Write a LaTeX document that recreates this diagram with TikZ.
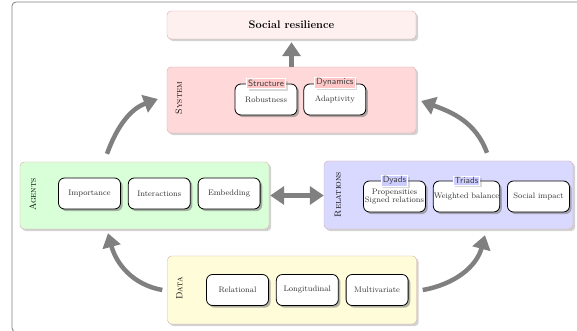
\documentclass[tikz,border=0pt]{standalone}
\usepackage{amsmath, amssymb}
\usepackage{tikz}
\usetikzlibrary{positioning, shadows, arrows.meta}

\definecolor{edgepink}{RGB}{214,172,172}
\definecolor{flowgray}{RGB}{128,128,128}

\begin{document}
\begin{tikzpicture}[x=1pt, y=1pt,
        tier/.style={draw=edgepink, fill=#1, rounded corners=4pt, drop shadow={opacity=0.35}, minimum width=249pt, minimum height=67pt},
        item/.style={draw, line width=0.8pt, fill=white, rounded corners=6pt, drop shadow={opacity=0.6}, minimum width=62pt, minimum height=31pt, inner sep=0.5pt, align=center, font=\footnotesize, text=black!80},
        tag/.style={draw=white, line width=0.8pt, fill=#1, inner sep=1.5pt, font=\small\sffamily, text=black!75, drop shadow={opacity=0.3}},
        lbl/.style={rotate=90, font=\small},
        flow/.style={draw=flowgray, line width=4.5pt, -{Triangle[length=14pt, width=18pt]}}
    ]
    \useasboundingbox (0,0) rectangle (577,331);
    \draw[gray, line width=0.8pt, rounded corners=4pt] (12,-1) rectangle (640,329);

    \node[tier=red!6, minimum height=28pt, font=\fontsize{11}{13}\selectfont\bfseries] (resil) at (291.5,306) {Social resilience};

    \node[tier=red!15, minimum height=66pt] (system) at (291.5,231) {};
    \node[lbl] (systemlbl) at ([xshift=12pt, yshift=2pt]system.west) {\textsc{System}};
    \node[item] (robust) at (266,231.5) {Robustness};
    \node[item, right=6pt of robust] (adapt) {Adaptivity};
    \node[tag=red!22] (structure) at (robust.north) {Structure};
    \node[tag=red!22] (dynamics) at ([yshift=1pt]adapt.north) {Dynamics};

    \node[tier=green!15] (agents) at (144.5,135.5) {};
    \node[lbl] (agentslbl) at ([xshift=13pt, yshift=1pt]agents.west) {\textsc{Agents}};
    \node[item] (import) at (89.5,137.5) {Importance};
    \node[item, right=7pt of import] (interact) {Interactions};
    \node[item, right=7pt of interact] (embed) {Embedding};

    \node[tier=blue!15, minimum height=68pt] (relations) at (448.5,136) {};
    \node[lbl] (relationslbl) at ([xshift=14pt, yshift=0.5pt]relations.west) {\textsc{Relations}};
    \node[item] (propens) at (394.5,134.5) {Propensities\\[-1.5pt]Signed relations};
    \node[item, right=7pt of propens] (balance) {Weighted balance};
    \node[item, right=7pt of balance] (impact) {Social impact};
    \node[tag=blue!20] (dyads) at (propens.north) {Dyads};
    \node[tag=blue!20] (triads) at (balance.north) {Triads};

    \node[tier=yellow!15, minimum height=68pt] (data) at (292,41) {};
    \node[lbl] (datalbl) at ([xshift=12pt, yshift=1.5pt]data.west) {\textsc{Data}};
    \node[item] (relational) at (237.5,41) {Relational};
    \node[item, right=7pt of relational] (longit) {Longitudinal};
    \node[item, right=7pt of longit] (multi) {Multivariate};

    \draw[flow, shorten >=3pt] (system) -- (resil);
    \draw[flow, {Triangle[length=14pt, width=18pt]}-{Triangle[length=14pt, width=18pt]}, shorten <=1pt] (agents.east) -- (agents.east -| relations.west);
    \draw[flow] ([shift={(-37.5pt,8pt)}]agents.north) to[out=70, in=200] ([shift={(-9pt,1pt)}]system.west);
    \draw[flow] ([shift={(38.5pt,8pt)}]relations.north) to[out=110, in=-20] ([shift={(5pt,-1pt)}]system.east);
    \draw[flow] ([xshift=-5pt]data.west) to[out=170, in=-75] ([shift={(-36.5pt,-4pt)}]agents.south);
    \draw[flow] ([xshift=6pt]data.east) to[out=10, in=-105] ([shift={(36.5pt,-6pt)}]relations.south);
\end{tikzpicture}
\end{document}
